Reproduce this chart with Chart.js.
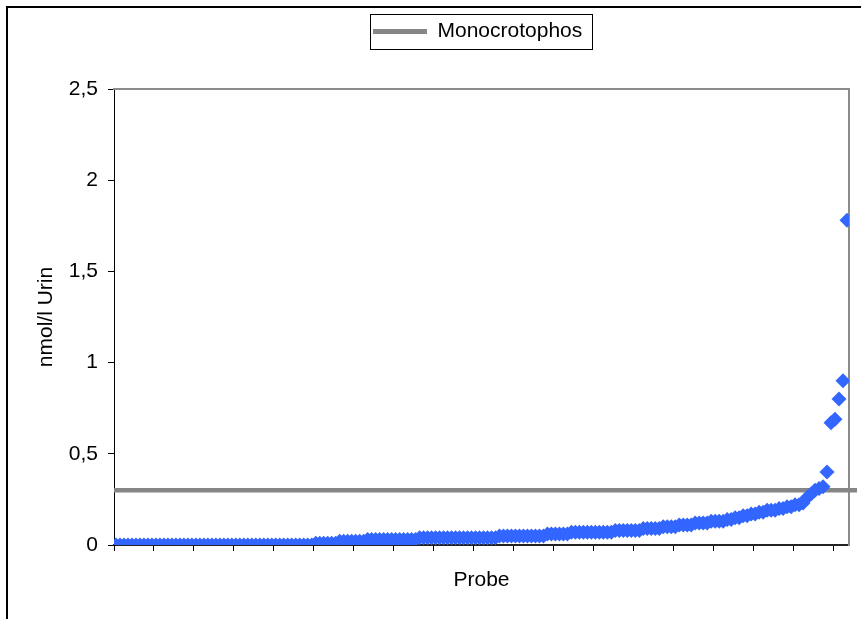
<!DOCTYPE html>
<html>
<head>
<meta charset="utf-8">
<script src="https://cdn.jsdelivr.net/npm/chart.js@4.4.0/dist/chart.umd.min.js"></script>
<style>
html,body{margin:0;padding:0;background:#fff;}
#wrap{position:relative;width:861px;height:619px;}
</style>
</head>
<body>
<div id="wrap"><canvas id="c" width="861" height="619"></canvas></div>
<script>
// ---- data ----
const seriesName = 'Monocrotophos';
const xAxisTitle = 'Probe';
const yAxisTitle = 'nmol/l Urin';
const yTickValues = [0, 0.5, 1, 1.5, 2, 2.5];
const thresholdValue = 0.3;
const thresholdSpan = [0, 186];
const probeValues = [
  0,0,0,0,0,0,0,0,0,0,
  0,0,0,0,0,0,0,0,0,0,
  0,0,0,0,0,0,0,0,0,0,
  0,0,0,0,0,0,0,0,0,0,
  0,0,0,0,0,0,0,0,0,0,
  0.01,0.01,0.01,0.01,0.01,0.01,
  0.02,0.02,0.02,0.02,0.02,0.02,0.02,
  0.03,0.03,0.03,0.03,0.03,0.03,0.03,0.03,0.03,0.03,0.03,0.03,0.03,
  0.04,0.04,0.04,0.04,0.04,0.04,0.04,0.04,0.04,0.04,
  0.04,0.04,0.04,0.04,0.04,0.04,0.04,0.04,0.04,0.04,
  0.05,0.05,0.05,0.05,0.05,0.05,0.05,0.05,0.05,0.05,0.05,0.05,
  0.06,0.06,0.06,0.06,0.06,0.06,
  0.07,0.07,0.07,0.07,0.07,0.07,0.07,0.07,0.07,0.07,0.07,
  0.08,0.08,0.08,0.08,0.08,0.08,0.08,
  0.09,0.09,0.09,0.09,0.09,
  0.10,0.10,0.10,0.10,
  0.11,0.11,0.11,0.11,
  0.12,0.12,0.12,0.12,
  0.13,0.13,0.13,0.13,
  0.14,0.14,
  0.15,0.15,
  0.16,0.16,
  0.17,0.17,
  0.18,0.18,
  0.19,0.19,0.19,
  0.20,0.20,
  0.21,0.21,
  0.22,0.22,
  0.23,0.26,0.28,0.30,0.31,0.32,
  0.40,0.67,0.69,0.80,0.90,1.78
];
const sampleCount = probeValues.length;

// ---- chart ----
Chart.defaults.font.family = "'Liberation Sans', Arial, sans-serif";
Chart.defaults.font.size = 21;
Chart.defaults.color = '#000';

const pointData = probeValues.map((v, i) => ({x: i + 0.5, y: v}));
const lineData = thresholdSpan.map(x => ({x: x, y: thresholdValue}));

const framePlugin = {
  id: 'frame',
  afterLayout(chart) {
    const lg = chart.legend;
    if (lg) { const w = lg.right - lg.left; lg.left = 366; lg.right = lg.left + w; }
  },
  beforeDraw(chart) {
    const ctx = chart.ctx;
    ctx.save();
    ctx.fillStyle = '#fff';
    ctx.fillRect(0, 0, chart.width, chart.height);
    ctx.strokeStyle = '#000';
    ctx.lineWidth = 2;
    ctx.beginPath();
    ctx.moveTo(7, chart.height + 2);
    ctx.lineTo(7, 7);
    ctx.lineTo(chart.width + 2, 7);
    ctx.stroke();
    ctx.restore();
  },
  afterDraw(chart) {
    const lg = chart.legend;
    if (!lg || !lg.legendHitBoxes || !lg.legendHitBoxes.length) return;
    const hb = lg.legendHitBoxes[0];
    const ctx = chart.ctx;
    ctx.save();
    ctx.strokeStyle = '#000';
    ctx.lineWidth = 1;
    const l = Math.round(hb.left - 3) + 0.5;
    const r = Math.round(hb.left + hb.width + 10) + 0.5;
    ctx.strokeRect(l, lg.top + 0.5, r - l, 35);
    ctx.restore();
  }
};

new Chart(document.getElementById('c'), {
  data: {
    datasets: [
      {
        type: 'scatter',
        label: xAxisTitle,
        data: pointData,
        pointStyle: 'rectRot',
        pointRadius: 7.5,
        pointHoverRadius: 7.5,
        pointBackgroundColor: '#3366FF',
        pointBorderColor: '#3366FF',
        pointBorderWidth: 0,
        showLine: false,
        order: 0
      },
      {
        type: 'line',
        label: seriesName,
        data: lineData,
        borderColor: '#868686',
        backgroundColor: '#868686',
        borderWidth: 4.5,
        pointRadius: 0,
        clip: {left: 0, top: 0, right: 10, bottom: 0},
        order: 1
      }
    ]
  },
  options: {
    responsive: false,
    animation: false,
    devicePixelRatio: 1,
    layout: {padding: {top: 14, left: 0, right: 12, bottom: 0}},
    plugins: {
      tooltip: {enabled: false},
      legend: {
        position: 'top',
        align: 'start',
        labels: {
          boxWidth: 54,
          boxHeight: 5,
          padding: 7,
          color: '#000',
          font: {size: 21},
          filter: item => item.text === seriesName,
          generateLabels(chart) {
            const items = Chart.defaults.plugins.legend.labels.generateLabels(chart);
            items.forEach(it => { it.lineWidth = 0; });
            return items;
          }
        }
      }
    },
    scales: {
      x: {
        type: 'linear',
        position: 'bottom',
        min: 0,
        max: sampleCount,
        afterFit(s) { s.height = 74; },
        ticks: {stepSize: 10, includeBounds: false, autoSkip: false, maxRotation: 0, callback: () => ''},
        grid: {drawOnChartArea: false, tickLength: 6, color: '#000', lineWidth: 1},
        border: {color: '#222', width: 2},
        title: {display: true, text: xAxisTitle, padding: {top: 0, bottom: 26}, font: {size: 21}}
      },
      y: {
        type: 'linear',
        position: 'left',
        min: yTickValues[0],
        max: yTickValues[yTickValues.length - 1],
        afterFit(s) { s.width = 114; },
        afterBuildTicks(s) { s.ticks = yTickValues.map(v => ({value: v})); },
        ticks: {padding: 10, font: {size: 21}, callback: v => String(v).replace('.', ',')},
        grid: {drawOnChartArea: false, tickLength: 6, color: '#000', lineWidth: 1},
        border: {color: '#000', width: 1},
        title: {display: true, text: yAxisTitle, padding: {top: 34, bottom: 0}, font: {size: 21}}
      },
      x2: {
        type: 'linear',
        position: 'top',
        min: 0, max: 1,
        afterFit(s) { s.height = 37; },
        ticks: {display: false},
        grid: {display: false},
        border: {display: true, color: '#8c8c8c', width: 2}
      },
      y2: {
        type: 'linear',
        position: 'right',
        min: 0, max: 1,
        afterFit(s) { s.width = 0; },
        ticks: {display: false},
        grid: {display: false},
        border: {display: true, color: '#8c8c8c', width: 2}
      }
    }
  },
  plugins: [framePlugin]
});
</script>
</body>
</html>
